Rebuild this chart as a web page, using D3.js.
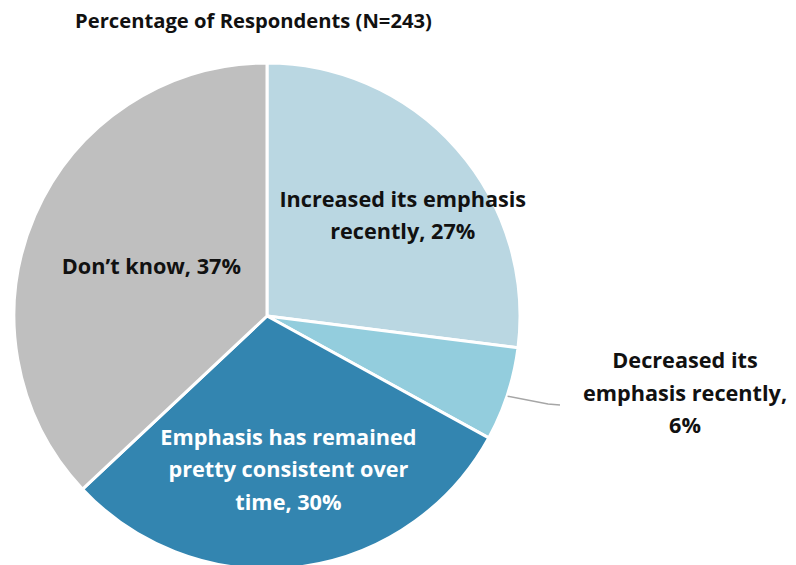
<!DOCTYPE html>
<html>
<head>
<meta charset="utf-8">
<script src="https://cdn.jsdelivr.net/npm/d3@7"></script>
<style>
  html, body { margin: 0; padding: 0; background: #fff; }
  svg text { font-family: "Open Sans", Lato, sans-serif; font-weight: 700; }
</style>
</head>
<body>
<svg id="chart" width="796" height="565"></svg>
<script>
// ---- data ----
const title = "Percentage of Respondents (N=243)";
const categories = [
  "Increased its emphasis recently",
  "Decreased its emphasis recently",
  "Emphasis has remained pretty consistent over time",
  "Don\u2019t know"
];
const values = [27, 6, 30, 37];
const labelLines = [
  ["Increased its emphasis", "recently, 27%"],
  ["Decreased its", "emphasis recently,", "6%"],
  ["Emphasis has remained", "pretty consistent over", "time, 30%"],
  ["Don\u2019t know, 37%"]
];

// ---- styles / layout ----
const colors = ["#BAD7E2", "#93CDDD", "#3385B0", "#BFBFBF"];
const textColors = ["#111", "#111", "#fff", "#111"];
const cx = 267, cy = 316, radius = 253;
const labelDist = [169, null, 155, 126];   // distance of label centre from pie centre
const labelShift = [[9, 11], [0, 0], [2, 0], [0, 0]];
const outsideLabel = { x: 685, y: 393 };   // centre of the outside label block
const lineGap = 32.5;
const labelWidthTarget = 247;  // width of "Increased its emphasis" in the reference
const titleWidthTarget = 357;

const svg = d3.select("#chart");

// fit font sizes to the reference's text widths
function fitSize(str, target) {
  const probe = svg.append("text").attr("font-size", 20).text(str);
  const w = probe.node().getComputedTextLength();
  probe.remove();
  return 20 * target / w;
}
const fontSize = fitSize(labelLines[0][0], labelWidthTarget);
const titleSize = fitSize(title, titleWidthTarget);

svg.append("text")
  .attr("x", 253.5).attr("y", 28)
  .attr("text-anchor", "middle")
  .attr("font-size", titleSize)
  .attr("fill", "#111")
  .text(title);

const pie = d3.pie().sort(null).value(d => d)(values);
const arc = d3.arc().innerRadius(0).outerRadius(radius);

const g = svg.append("g").attr("transform", `translate(${cx},${cy})`);

g.selectAll("path")
  .data(pie)
  .join("path")
  .attr("d", arc)
  .attr("fill", (d, i) => colors[i])
  .attr("stroke", "#fff")
  .attr("stroke-width", 3)
  .attr("stroke-linejoin", "round");

function midAngle(d) { return (d.startAngle + d.endAngle) / 2; }

pie.forEach((d, i) => {
  let x, y;
  const a = midAngle(d);
  if (labelDist[i] !== null) {
    x = Math.sin(a) * labelDist[i] + labelShift[i][0];
    y = -Math.cos(a) * labelDist[i] + labelShift[i][1];
  } else {
    x = outsideLabel.x - cx;
    y = outsideLabel.y - cy;
    // leader line from slice edge to the label
    const sx = Math.sin(a) * radius, sy = -Math.cos(a) * radius + 2;
    const ex = x - 125, ey = y + 12;
    g.append("polyline")
      .attr("points", [[sx, sy], [ex - 12, ey - 1], [ex, ey]].map(p => p.join(",")).join(" "))
      .attr("fill", "none")
      .attr("stroke", "#A6A6A6")
      .attr("stroke-width", 1.5);
  }
  const lines = labelLines[i];
  const t = g.append("text")
    .attr("text-anchor", "middle")
    .attr("font-size", fontSize)
    .attr("fill", textColors[i]);
  lines.forEach((ln, k) => {
    t.append("tspan")
      .attr("x", x)
      .attr("y", y + (k - (lines.length - 1) / 2) * lineGap)
      .attr("dy", "0.35em")
      .text(ln);
  });
});
</script>
</body>
</html>
